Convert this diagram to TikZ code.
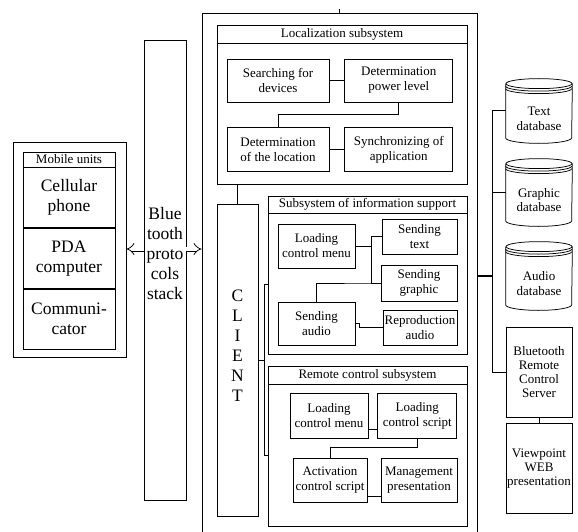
\documentclass[tikz,border=0pt]{standalone}
\usepackage{fontspec}
\setmainfont{Liberation Serif}
\usetikzlibrary{arrows.meta,positioning,calc}

\begin{document}
\begin{tikzpicture}[
            x=1pt, y=-1pt,
            line width=0.75pt,
            every node/.style={inner sep=1pt},
            box/.style={
                draw,
                align=center,
                font=\fontsize{13}{15}\selectfont
            },
            bigbox/.style={
                draw,
                align=center,
                minimum width=92pt,
                minimum height=60pt,
                font=\fontsize{17.5}{20}\selectfont
            },
            bigtext/.style={
                align=center,
                font=\fontsize{17.5}{20}\selectfont
            },
            title/.style={
                draw,
                minimum height=18pt,
                font=\fontsize{13}{15}\selectfont
            },
            dbtext/.style={
                align=center,
                font=\fontsize{13}{14.5}\selectfont
            },
            hollow/.style={
                double,
                double distance=3.5pt,
                -{Implies[scale=2.6]}
            },
            node distance=0pt
        ]

            \useasboundingbox (0,0) rectangle (578,532);
            \clip (0,0) rectangle (578,532);

            % --- Mobile units ---
            \node[draw, minimum width=113pt, minimum height=215pt] (mob) at (69.5,249.5) {};
            \node[title, minimum width=92pt, minimum height=15pt] (mobtitle) at (69,159.5) {Mobile units};
            \node[bigbox, below=of mobtitle] (cell) {Cellular\\phone};
            \node[bigbox, below=of cell] (pda) {PDA\\computer};
            \node[bigbox, below=of pda] (comm) {Communi-\\cator};

            % --- Bluetooth stack ---
            \node[draw, minimum width=42pt, minimum height=460pt] (bt) at (165,270) {};
            \node[bigtext] (bttxt) at ([yshift=16pt]bt.center) {Blue\\tooth\\proto\\cols\\stack};

            % --- Main frame ---
            \node[draw, minimum width=275pt, minimum height=537pt] (frame) at (339.5,281.5) {};
            \draw (frame.north) -- ++(0,-4) coordinate (edge);

            % --- Hollow arrows ---
            \coordinate (arr) at (0,249);
            \draw[hollow] (bt.west |- arr) -- (mob.east |- arr);
            \draw[hollow] (bt.east |- arr) -- (frame.west |- arr);

            % --- Localization subsystem ---
            \node[title, minimum width=250pt] (loctitle) at (342,34) {Localization subsystem};
            \node[draw, minimum width=250pt, minimum height=141pt, below=of loctitle] (loc) {};
            \node[box, minimum width=102pt, minimum height=43pt] (search) at (278,80.5) {Searching for\\devices};
            \node[box, minimum width=108pt, minimum height=43pt, right=15pt of search] (power) {Determination\\power level};
            \node[box, minimum width=102pt, minimum height=44pt, below=25pt of search] (locate) {Determination\\of the location};
            \node[box, minimum width=108pt, minimum height=44pt, right=15pt of locate] (sync) {Synchronizing of\\application};

            \draw (search.east) -- (power.west);
            \draw (power.south) -- ++(0,12) -| (locate.north);
            \draw (locate.east) -- (sync.west);

            % --- Client ---
            \node[draw, minimum width=41pt, minimum height=312pt] (client) at (237.5,360) {};
            \node[bigtext] (clienttxt) at ([yshift=14pt]client.center) {C\\L\\I\\E\\N\\T};
            \draw (client.north) -- (client.north |- loc.south);

            % --- Subsystem of information support ---
            \node[title, minimum width=199pt, minimum height=17pt] (infotitle) at (367.5,204.5) {Subsystem of information support};
            \node[draw, minimum width=199pt, minimum height=141pt, below=of infotitle] (info) {};
            \node[box, minimum width=77pt, minimum height=44pt] (menu) at (316.5,246) {Loading\\control menu};
            \node[box, minimum width=75pt, minimum height=35pt] (stext) at (419.5,236.5) {Sending\\text};
            \node[box, minimum width=76pt, minimum height=36pt] (sgraph) at (419,283) {Sending\\graphic};
            \node[box, minimum width=77pt, minimum height=43pt] (saudio) at (316.5,323.5) {Sending\\audio};
            \node[box, minimum width=74pt, minimum height=35pt] (raudio) at (420,327.5) {Reproduction\\audio};

            \draw (menu.east) -- ++(17,0);
            \draw (stext.west) -- ++(-10,0) |- (sgraph.west);
            \draw (sgraph.west) -- ++(-9,0) -| (saudio.north);
            \draw (saudio.east) -- ++(4,0) |- (raudio.west);

            % --- Remote control subsystem ---
            \node[title, minimum width=199pt] (rctitle) at (367.5,375) {Remote control subsystem};
            \node[draw, minimum width=199pt, minimum height=142pt, below=of rctitle] (rc) {};
            \node[box, minimum width=78pt, minimum height=45pt] (rmenu) at (329,415.5) {Loading\\control menu};
            \node[box, minimum width=79pt, minimum height=45pt, right=9pt of rmenu] (rscript) {Loading\\control script};
            \node[box, minimum width=74pt, minimum height=44pt] (act) at (330,480) {Activation\\control script};
            \node[box, minimum width=76pt, minimum height=44pt] (mgmt) at (419,480) {Management\\presentation};

            \draw ([yshift=-14pt]rmenu.east) -- ([yshift=-14pt]rscript.west);
            \draw (rscript.south) -- ++(0,9) -| (act.north);
            \draw ([yshift=-16pt]act.east) -- ([yshift=-16pt]mgmt.west);

            % --- Client to subsystems ---
            \draw (info.west) -- ++(-3,0) |- (rc.west);
            \draw (client.east) -- ++(7,0);

            % --- Databases ---
            \foreach \n/\y/\h/\t in {tdb/110.75/53.5/Text, gdb/192.25/56.5/Graphic, adb/275.75/57.5/Audio} {
                \node[minimum width=66pt, minimum height=\h pt, inner sep=0pt] (\n) at (539,\y) {};
                \node[dbtext] (\n-txt) at ([yshift=-8pt]\n.center) {\t\\database};
                \draw (\n.north west) -- (\n.south west)
                    arc[start angle=180, end angle=360, x radius=33pt, y radius=5.5pt] -- (\n.north east);
                \draw (\n.north) ellipse[x radius=33pt, y radius=5pt];
                \foreach \s in {2.5,5} {
                    \draw ([yshift=-\s pt]\n.north west) arc[start angle=180, end angle=360, x radius=33pt, y radius=5pt];
                }
            }

            % --- Server and presentation ---
            \node[box, minimum width=66pt, minimum height=90pt, font=\fontsize{13}{14}\selectfont] (srv) at (539,372) {Bluetooth\\Remote\\Control\\Server};
            \node[box, minimum width=66pt, minimum height=90pt, below=6pt of srv, font=\fontsize{13}{14}\selectfont] (web) {Viewpoint\\WEB\\presentation};

            \draw (tdb.west) -- ++(-13,0) coordinate (dbbus) |- (srv.west);
            \draw (gdb.west) -- (gdb.west -| dbbus);
            \draw[line width=1.5pt] (adb.west -| frame.east) -- (adb.west -| dbbus);
            \draw (srv.south) -- (web.north);
        \end{tikzpicture}
\end{document}
